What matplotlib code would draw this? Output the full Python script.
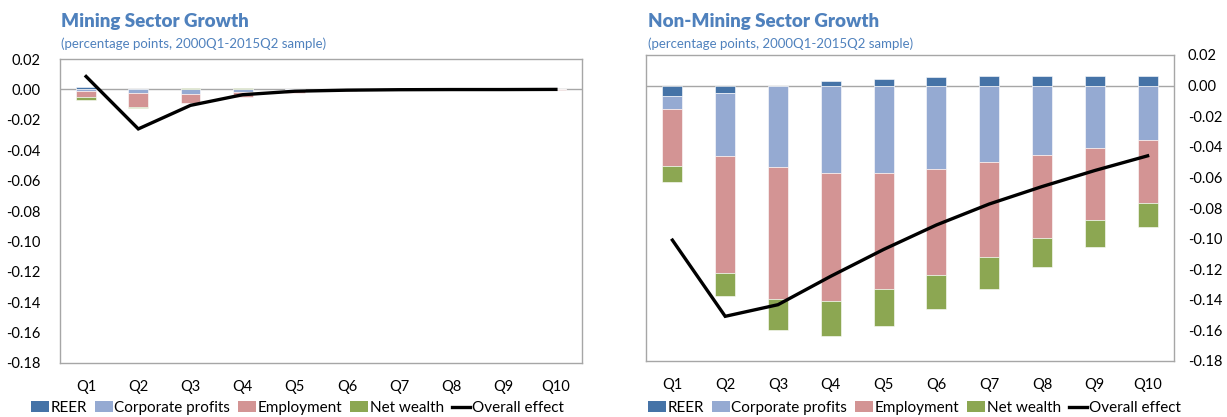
import matplotlib
matplotlib.use("Agg")
import matplotlib.pyplot as plt
import numpy as np
from matplotlib.patches import Patch
from matplotlib.lines import Line2D

plt.rcParams['font.family'] = ['Lato', 'DejaVu Sans']

categories = ["Q1", "Q2", "Q3", "Q4", "Q5", "Q6", "Q7", "Q8", "Q9", "Q10"]
series_names = ["REER", "Corporate profits", "Employment", "Net wealth"]

# Mining sector
min_reer = [0.0013, 0.0, 0.0002, 0.0002, 0.0, 0.0, 0.0, 0.0, 0.0, 0.0]
min_corp = [-0.0008, -0.0026, -0.0030, -0.0018, -0.0005, -0.0003, -0.0001, -0.0001, 0.0, 0.0]
min_empl = [-0.0045, -0.0088, -0.0060, -0.0033, -0.0018, -0.0010, -0.0005, -0.0004, -0.0002, -0.0001]
min_netw = [-0.0015, -0.0007, 0.0004, 0.0004, 0.0, 0.0, 0.0, 0.0, 0.0, 0.0]
min_overall = [0.0085, -0.0260, -0.0105, -0.0035, -0.0012, -0.0005, -0.0002, -0.0001, -0.0001, 0.0]

# Non-mining sector
non_reer = [-0.0068, -0.0048, -0.0005, 0.0029, 0.0046, 0.0057, 0.0062, 0.0062, 0.0062, 0.0062]
non_corp = [-0.0083, -0.0409, -0.0529, -0.0568, -0.0568, -0.0542, -0.0502, -0.0456, -0.0411, -0.0358]
non_empl = [-0.0374, -0.0766, -0.0859, -0.0839, -0.0764, -0.0698, -0.0616, -0.0539, -0.0466, -0.0407]
non_netw = [-0.0107, -0.0149, -0.0206, -0.0230, -0.0238, -0.0220, -0.0214, -0.0192, -0.0177, -0.0157]
non_overall = [-0.1010, -0.1508, -0.1432, -0.1246, -0.1071, -0.0911, -0.0774, -0.0660, -0.0555, -0.0459]

yticks = [0.02, 0.00, -0.02, -0.04, -0.06, -0.08, -0.10, -0.12, -0.14, -0.16, -0.18]

colors = ["#4573A7", "#95AAD2", "#D39494", "#8CA752"]
title_color = "#4F81BD"
spine_color = "#A6A6A6"


def draw(ax, series, overall, right=False):
    x = np.arange(len(categories))
    pos_base = np.zeros(len(categories))
    neg_base = np.zeros(len(categories))
    for vals, c in zip(series, colors):
        v = np.array(vals)
        bottoms = np.where(v >= 0, pos_base, neg_base)
        ax.bar(x, v, bottom=bottoms, width=0.38, color=c, edgecolor="white",
               linewidth=0.4, zorder=2)
        pos_base = pos_base + np.where(v >= 0, v, 0)
        neg_base = neg_base + np.where(v < 0, v, 0)
    ax.plot(x, overall, color="black", linewidth=2.4, zorder=3,
            solid_joinstyle="miter")
    ax.axhline(0, color=spine_color, linewidth=1.0, zorder=1)
    ax.set_xlim(-0.5, len(categories) - 0.5)
    ax.set_ylim(-0.18, 0.02)
    ax.set_yticks(yticks)
    ax.set_yticklabels([f"{t:.2f}" for t in yticks])
    ax.set_xticks(x)
    ax.set_xticklabels(categories)
    ax.tick_params(axis="both", length=0, labelsize=10.5, colors="black")
    ax.tick_params(axis="x", pad=12)
    if right:
        ax.yaxis.tick_right()
        ax.tick_params(axis="y", pad=10)
    else:
        ax.tick_params(axis="y", pad=14)
    for s in ax.spines.values():
        s.set_color(spine_color)
        s.set_linewidth(1.0)


fig = plt.figure(figsize=(12.27, 4.17), dpi=100)

W, H = 1227, 417
ax1 = fig.add_axes([60 / W, (H - 363) / H, 522 / W, 304 / H])
ax2 = fig.add_axes([646 / W, (H - 361) / H, 528 / W, 306 / H])

draw(ax1, [min_reer, min_corp, min_empl, min_netw], min_overall)
draw(ax2, [non_reer, non_corp, non_empl, non_netw], non_overall, right=True)

fig.text(61 / W, 1 - 21 / H, "Mining Sector Growth", color=title_color,
         fontsize=13.5, fontweight="heavy", va="center", ha="left")
fig.text(61 / W, 1 - 44 / H, "(percentage points, 2000Q1-2015Q2 sample)",
         color=title_color, fontsize=9.5, va="center", ha="left")
fig.text(648 / W, 1 - 21 / H, "Non-Mining Sector Growth", color=title_color,
         fontsize=13.5, fontweight="heavy", va="center", ha="left")
fig.text(648 / W, 1 - 44 / H, "(percentage points, 2000Q1-2015Q2 sample)",
         color=title_color, fontsize=9.5, va="center", ha="left")

handles = [Patch(facecolor=c, edgecolor="none") for c in colors]
handles.append(Line2D([0], [0], color="black", linewidth=2.4))
labels = series_names + ["Overall effect"]

for cx in (297 / W, 914 / W):
    fig.legend(handles, labels, loc="center", bbox_to_anchor=(cx, 1 - 408 / H),
               ncol=5, frameon=False, fontsize=11, handlelength=1.2,
               handleheight=0.7, handletextpad=0.1, columnspacing=0.5,
               borderaxespad=0)

fig.savefig("out.png", dpi=100)
